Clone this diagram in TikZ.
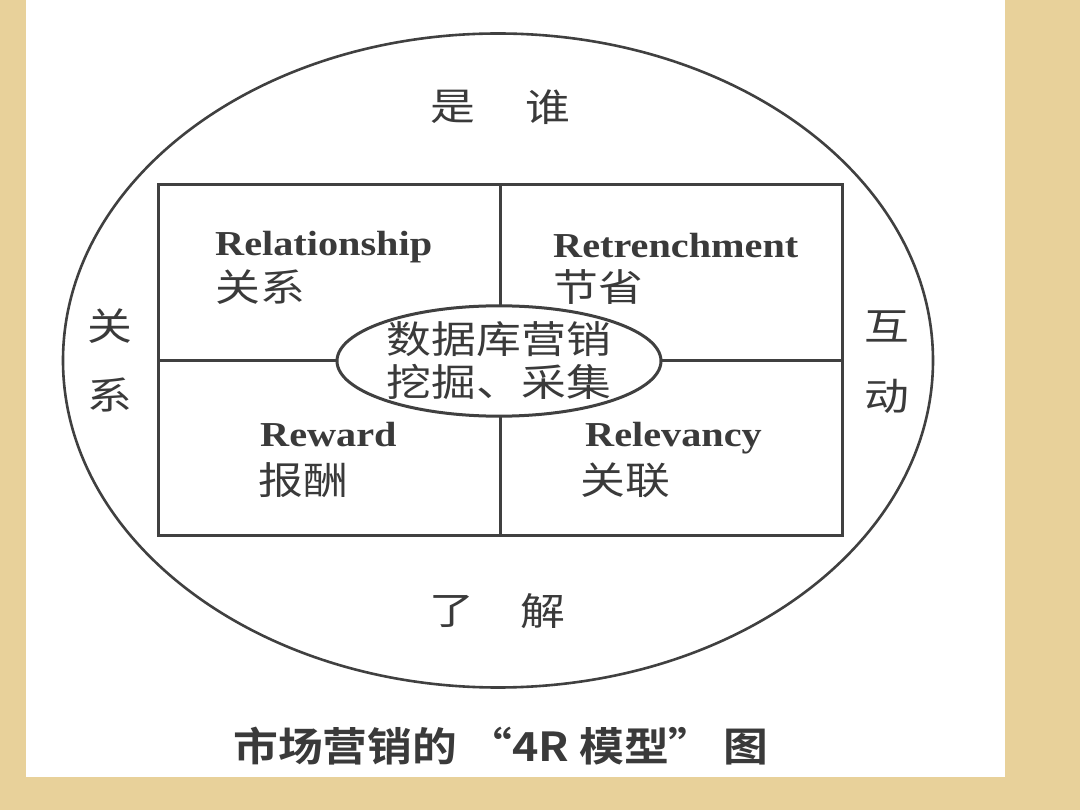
\documentclass[tikz,border=0pt]{standalone}
\usepackage{fontspec}
\usetikzlibrary{shapes.geometric}
\newfontfamily\cjk[FakeStretch=1.18]{Noto Sans CJK SC}
\newfontfamily\cjkb[FakeStretch=1.12]{Noto Sans CJK SC Bold}
\newfontfamily\latin[FakeStretch=1.15]{Liberation Serif}
\definecolor{tan}{HTML}{E8D19A}
\definecolor{ink}{HTML}{404040}
\definecolor{txt}{HTML}{3A3A3A}
\begin{document}
\begin{tikzpicture}[x=1pt,y=-1pt,
  frame/.style={draw=ink,line width=3pt},
  lat/.style={inner sep=0pt,anchor=base west,text=txt,font=\latin\bfseries\fontsize{35}{40}\selectfont},
  zh/.style={inner sep=0pt,anchor=base west,text=txt,font=\cjk\fontsize{38}{40}\selectfont},
  side/.style={inner sep=0pt,text=txt,font=\cjk\fontsize{38}{40}\selectfont}]
\useasboundingbox (0,0) rectangle (1080,810);
\fill[tan] (0,0) rectangle (1080,810);
\fill[white] (26,0) rectangle (1005,777);
% outer ellipse
\draw[draw=ink,line width=2.6pt] (498,360.5) ellipse [x radius=435, y radius=327];
% grid
\coordinate (tl) at (158,185);
\coordinate (br) at (842,535);
\draw[frame] (tl) rectangle (br);
\draw[frame] (500,185) -- (500,535);
\draw[frame] (158,361) -- (842,361);
% centre ellipse
\node[ellipse,draw=ink,line width=3pt,fill=white,minimum width=324,minimum height=108,inner sep=0pt,
      align=center,text=txt,font=\cjk\fontsize{38}{43}\selectfont] (core) at (499,361)
      {数据库营销\\挖掘、采集};
% cell labels
\node[lat] (r1) at (215,256) {Relationship};
\node[zh]  (c1) at (215,302) {关系};
\node[lat] (r2) at (553,258) {Retrenchment};
\node[zh]  (c2) at (553,302) {节省};
\node[lat] (r3) at (260,447) {Reward};
\node[zh]  (c3) at (258,494) {报酬};
\node[lat] (r4) at (585,447) {Relevancy};
\node[zh]  (c4) at (580,494) {关联};
% outer labels
\node[side] (t1) at (453,107) {是};
\node[side] (t2) at (548,107) {谁};
\node[side] (b1) at (452,611) {了};
\node[side] (b2) at (543,611) {解};
\node[side] (l1) at (110,326) {关};
\node[side] (l2) at (110,395) {系};
\node[side] (g1) at (887,326) {互};
\node[side] (g2) at (887,396) {动};
% caption
\node[inner sep=0pt,text=txt,font=\cjkb\fontsize{40}{42}\selectfont] (cap) at (501,746)
  {市场营销的 “4R 模型” 图};
\end{tikzpicture}
\end{document}
